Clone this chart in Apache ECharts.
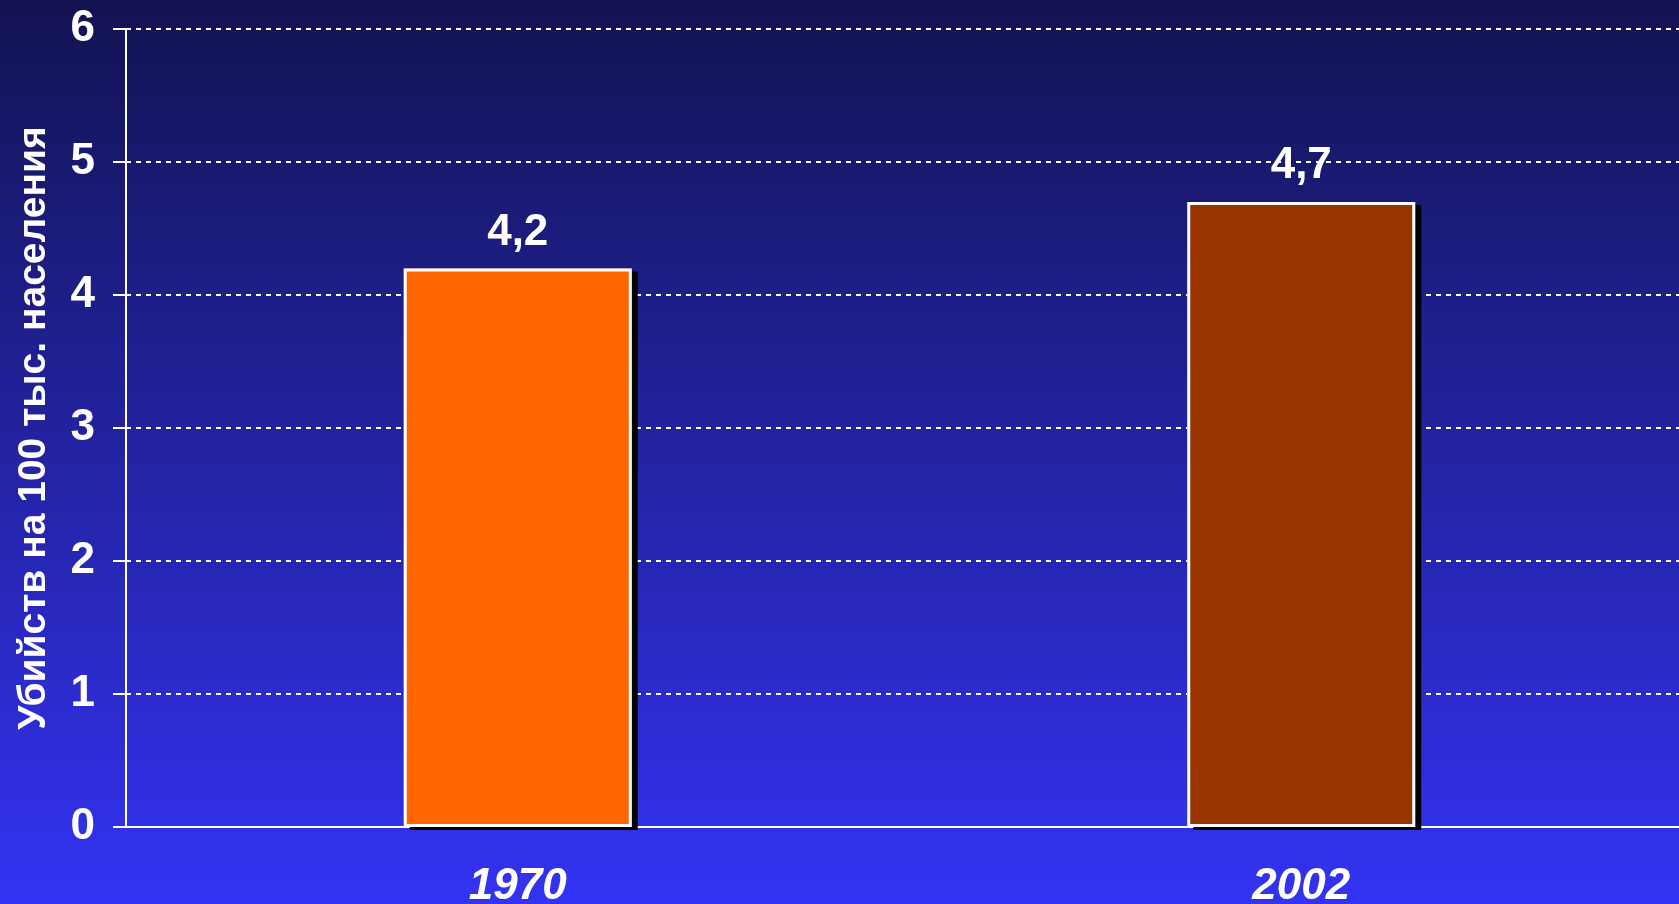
<!DOCTYPE html>
<html>
<head>
<meta charset="utf-8">
<script src="https://cdn.jsdelivr.net/npm/echarts@6/dist/echarts.min.js"></script>
<style>
  html, body { margin: 0; padding: 0; }
  #chart { width: 1679px; height: 904px; }
</style>
</head>
<body>
<div id="chart"></div>
<script>
  // данные графика
  const years = ['1970', '2002'];
  const murders = [4.2, 4.7];
  const barColors = ['#ff6600', '#993300'];
  const axisName = 'Убийств на 100 тыс. населения';

  const chart = echarts.init(document.getElementById('chart'));

  const font = '"Liberation Sans", Arial, sans-serif';

  const option = {
    backgroundColor: new echarts.graphic.LinearGradient(0, 0, 0, 1, [
      { offset: 0, color: '#131352' },
      { offset: 1, color: '#3333f3' }
    ]),
    grid: { left: 126, right: -14, top: 29, bottom: 77, outerBoundsMode: 'none', containLabel: false },
    xAxis: {
      type: 'category',
      data: years,
      axisLine: { lineStyle: { color: '#ffffff', width: 2 } },
      axisTick: { show: false },
      axisLabel: {
        color: '#ffffff',
        fontFamily: font,
        fontSize: 44,
        fontWeight: 'bold',
        fontStyle: 'italic',
        margin: 38
      }
    },
    yAxis: {
      type: 'value',
      min: 0,
      max: 6,
      interval: 1,
      name: axisName,
      nameLocation: 'middle',
      nameGap: 72,
      nameTextStyle: {
        color: '#ffffff',
        fontFamily: font,
        fontSize: 39,
        fontWeight: 'bold'
      },
      axisLine: { show: true, lineStyle: { color: '#ffffff', width: 2 } },
      axisTick: { show: true, length: 13, lineStyle: { color: '#ffffff', width: 2 } },
      axisLabel: {
        color: '#ffffff',
        fontFamily: font,
        fontSize: 44,
        fontWeight: 'bold',
        margin: 31
      },
      splitLine: {
        lineStyle: { color: '#ffffff', width: 2, type: [5, 5] }
      }
    },
    series: [{
      // заливка с тенью
      type: 'bar',
      barWidth: 228,
      data: murders.map((v, i) => ({
        value: v,
        itemStyle: { color: barColors[i] }
      })),
      itemStyle: {
        shadowColor: '#000000',
        shadowBlur: 0,
        shadowOffsetX: 6,
        shadowOffsetY: 3
      },
      label: {
        show: true,
        position: 'top',
        distance: 14,
        color: '#ffffff',
        fontFamily: font,
        fontSize: 44,
        fontWeight: 'bold',
        formatter: p => String(p.value).replace('.', ',')
      }
    }, {
      // белая рамка поверх
      type: 'bar',
      barWidth: 228,
      barGap: '-100%',
      silent: true,
      data: murders,
      itemStyle: {
        color: 'rgba(0,0,0,0)',
        borderColor: '#ffffff',
        borderWidth: 3
      }
    }]
  };

  chart.setOption(option);
</script>
</body>
</html>
